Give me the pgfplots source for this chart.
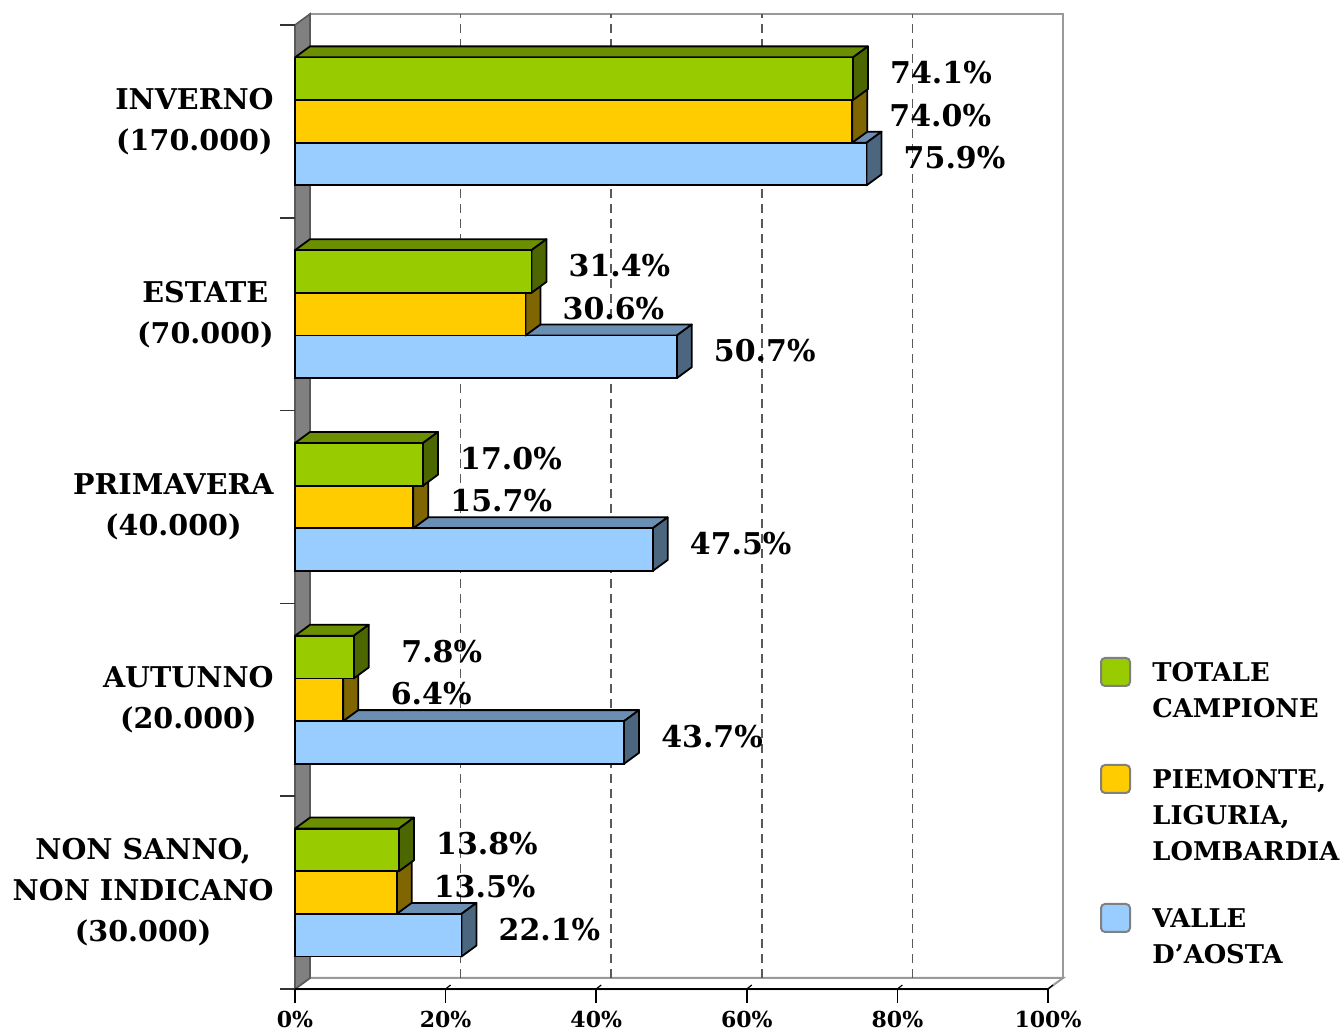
\documentclass[border=0pt]{standalone}
\usepackage{pgfplots}
\usepackage{pgfplotstable}
\pgfplotsset{compat=1.18}
\usepackage{fontspec}
\setmainfont{DejaVu Serif}

\definecolor{cgreen}{HTML}{99CC00}
\definecolor{cyellow}{HTML}{FFCC00}
\definecolor{cblue}{HTML}{99CCFF}
\colorlet{cgreenT}{cgreen!70!black}
\colorlet{cgreenS}{cgreen!50!black}
\colorlet{cyellowT}{cyellow!65!black}
\colorlet{cyellowS}{cyellow!50!black}
\colorlet{cblueT}{cblue!70!black}
\colorlet{cblueS}{cblue!50!black}

% y: 4 = INVERNO ... 0 = NON SANNO
\pgfplotstableread{
y val
4 74.1
3 31.4
2 17.0
1 7.8
0 13.8
}\totale
\pgfplotstableread{
y val
4 74.0
3 30.6
2 15.7
1 6.4
0 13.5
}\piemonte
\pgfplotstableread{
y val
4 75.9
3 50.7
2 47.5
1 43.7
0 22.1
}\valle

\pgfplotsset{
  box3d/.style n args={3}{% #1 bar shift, #2 top colour, #3 side colour
    only marks, forget plot, scatter, mark=*, mark size=0pt,
    point meta=\thisrow{val},
    visualization depends on={\thisrow{val} \as \barval},
    scatter/@pre marker code/.code={%
      \pgfmathsetmacro\barL{\barval*3.765}%
      \filldraw[draw=black, line width=0.9pt, line join=round, fill=#2]
        (-\barL pt, #1+10.67pt) -- (0pt, #1+10.67pt) -- (7.5pt, #1+16.17pt)
        -- (-\barL pt+7.5pt, #1+16.17pt) -- cycle;
      \filldraw[draw=black, line width=0.9pt, line join=round, fill=#3]
        (0pt, #1-10.67pt) -- (7.5pt, #1-5.17pt) -- (7.5pt, #1+16.17pt)
        -- (0pt, #1+10.67pt) -- cycle;
    },
    scatter/@post marker code/.code={},
  },
  front/.style 2 args={xbar, bar width=21.33pt, bar shift=#1, fill=#2,
    draw=black, line width=0.9pt, point meta=x,
    nodes near coords={\pgfmathprintnumber[fixed,fixed zerofill,precision=1]{\pgfplotspointmeta}\%},
    nodes near coords style={font=\fontsize{15}{18}\selectfont\bfseries, text=black,
      anchor=center, xshift=44pt, yshift=#1, yshift=3pt, inner sep=0pt},
  },
}

\begin{document}
\begin{tikzpicture}
\path[use as bounding box] (-147.5pt,-22pt) rectangle (524.5pt,494.5pt);
% walls
\filldraw[fill=white, draw=gray!80, line width=1pt] (7.5pt,5.5pt) rectangle (384pt,487.5pt);
\filldraw[fill=white, draw=gray!80, line width=1pt] (0pt,0pt) -- (376.5pt,0pt) -- (384pt,5.5pt) -- (7.5pt,5.5pt) -- cycle;
\filldraw[fill=gray, draw=gray!70!black, line width=0.8pt] (0pt,0pt) -- (0pt,482pt) -- (7.5pt,487.5pt) -- (7.5pt,5.5pt) -- cycle;
\foreach \k in {0,...,5} {\draw[gray!40!black, line width=0.8pt] (-7.5pt,\k*96.4pt) -- (0pt,\k*96.4pt);}
\foreach \k in {1,...,5} {\draw[black, line width=0.6pt] (\k*75.3pt,0pt) -- (\k*75.3pt+2.5pt,2pt);}
\begin{axis}[
  at={(0pt,0pt)}, anchor=south west, scale only axis,
  width=376.5pt, height=482pt,
  xmin=0, xmax=100, ymin=-0.5, ymax=4.5,
  clip=false, clip marker paths=true,
  axis x line*=bottom, axis y line*=left,
  y axis line style={draw=none},
  x axis line style={black, line width=0.9pt},
  tick align=outside, major tick length=7pt,
  xtick={0,20,...,100},
  xticklabel={\pgfmathprintnumber{\tick}\%},
  xtick style={black, line width=0.8pt},
  xticklabel style={font=\fontsize{11}{13}\selectfont\bfseries, inner sep=0pt, yshift=-4pt},
  ytick={0,...,4},
  yticklabels={{NON SANNO,\\NON INDICANO\\(30.000)},{AUTUNNO\\(20.000)},{PRIMAVERA\\(40.000)},{ESTATE\\(70.000)},{INVERNO\\(170.000)}},
  ytick style={draw=none},
  yticklabel style={font=\fontsize{14.3}{20.5}\selectfont\bfseries, align=center, inner sep=0pt, xshift=-3.5pt},
  extra x ticks={20,40,60,80},
  extra x tick labels={},
  extra x tick style={grid=major},
  major grid style={gray!70!black, line width=0.8pt, dash pattern=on 4.5pt off 3pt, xshift=7.5pt, yshift=5.5pt},
  /pgf/number format/assume math mode=true,
]
\addplot[box3d={-21.33pt}{cblueT}{cblueS}] table[x=val, y=y] {\valle};
\addplot[front={-21.33pt}{cblue}] table[x=val, y=y] {\valle};
\addplot[box3d={0pt}{cyellowT}{cyellowS}] table[x=val, y=y] {\piemonte};
\addplot[front={0pt}{cyellow}] table[x=val, y=y] {\piemonte};
\addplot[box3d={21.33pt}{cgreenT}{cgreenS}] table[x=val, y=y] {\totale};
\addplot[front={21.33pt}{cgreen}] table[x=val, y=y] {\totale};
\end{axis}
% legend
\begin{scope}[font=\fontsize{12.9}{18}\selectfont\bfseries]
\filldraw[fill=cgreen, draw=gray, line width=1pt, rounded corners=2pt] (403pt,151.5pt) rectangle (417.5pt,165.5pt);
\node[anchor=north west, inner sep=0pt, align=left] at (428.5pt,163.5pt) {TOTALE\\CAMPIONE};
\filldraw[fill=cyellow, draw=gray, line width=1pt, rounded corners=2pt] (403pt,98pt) rectangle (417.5pt,112pt);
\node[anchor=north west, inner sep=0pt, align=left] at (428.5pt,110pt) {PIEMONTE,\\LIGURIA,\\LOMBARDIA};
\filldraw[fill=cblue, draw=gray, line width=1pt, rounded corners=2pt] (403pt,28.5pt) rectangle (417.5pt,42.5pt);
\node[anchor=north west, inner sep=0pt, align=left] at (428.5pt,40.5pt) {VALLE\\D’AOSTA};
\end{scope}
\end{tikzpicture}
\end{document}
